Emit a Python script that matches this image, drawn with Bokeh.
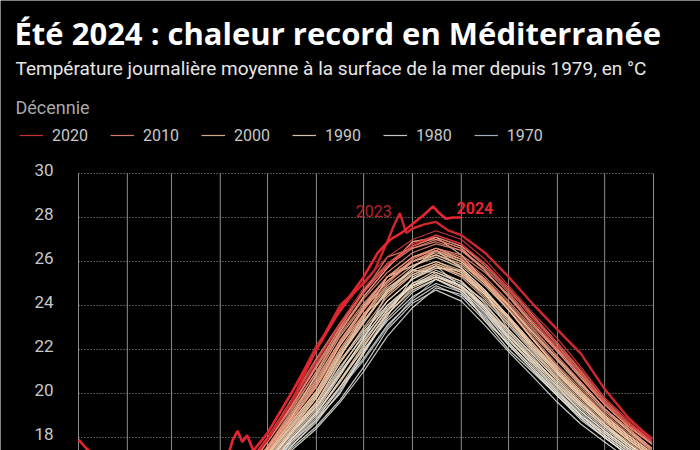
from bokeh.plotting import figure
from bokeh.models import Range1d, Label, Legend, LegendItem
from bokeh.core.properties import value
from bokeh.embed import file_html
from bokeh.resources import INLINE

# ---- data: day of year (0 = 1 Jan) and daily mean SST (°C) ----
days = [0, 45, 75, 105, 120, 135, 151, 166, 181, 196, 212, 227, 243, 258, 273, 288, 304, 319, 334, 349, 364]

t1979 = [15.8,14.5,14.3,15.2,16.5,17.7,18.9,20.2,21.5,23.0,24.3,25.2,24.6,23.6,22.4,21.4,20.1,19.1,18.2,17.4,16.6]
t1980 = [16.0,14.6,14.3,15.1,16.3,17.5,18.5,19.7,21.2,22.9,24.1,24.7,24.2,23.1,21.9,20.8,19.6,18.6,17.8,17.0,16.3]
t1981 = [15.7,14.3,14.1,15.0,16.4,17.8,19.0,20.3,21.6,23.1,24.2,24.9,24.4,23.3,22.0,21.0,19.9,18.9,18.0,17.2,16.5]
t1982 = [15.9,14.6,14.4,15.4,16.8,18.2,19.6,21.4,22.8,24.0,24.9,25.3,24.9,24.0,22.9,21.8,20.6,19.5,18.6,17.7,16.9]
t1983 = [16.0,14.5,14.2,15.2,16.5,17.8,18.8,20.0,21.8,23.5,25.3,25.8,24.8,23.8,22.5,21.3,20.1,19.0,18.1,17.3,16.6]
t1984 = [15.8,14.4,14.1,15.0,16.2,17.4,18.4,19.6,21.0,22.6,23.9,24.8,24.5,23.5,22.2,21.1,19.9,18.8,18.0,17.2,16.4]
t1985 = [15.7,14.3,14.0,15.0,16.3,17.6,18.7,20.1,21.9,23.4,24.6,25.2,24.7,23.7,22.3,21.2,20.0,19.0,18.2,17.4,16.7]
t1986 = [16.0,14.6,14.3,15.2,16.6,17.9,19.1,20.6,22.0,23.3,24.4,25.0,24.6,23.4,22.2,21.1,19.9,18.9,18.0,17.2,16.5]
t1987 = [15.9,14.5,14.4,15.3,16.6,17.9,19.2,20.8,22.5,24.6,25.6,25.5,25.0,24.2,23.1,21.9,20.7,19.6,18.6,17.7,16.9]
t1988 = [16.2,14.7,14.5,15.5,16.9,18.1,19.4,21.0,22.4,23.8,24.9,25.3,24.9,23.9,22.7,21.5,20.3,19.2,18.3,17.5,16.8]
t1989 = [16.1,14.7,14.6,15.6,17.0,18.3,19.6,21.2,22.6,23.9,24.9,25.4,24.9,23.8,22.6,21.6,20.4,19.3,18.4,17.6,16.8]
t1990 = [16.2,14.8,14.5,15.5,16.9,18.2,19.5,21.1,22.7,24.2,25.2,25.7,25.6,24.6,22.9,21.8,20.6,19.5,18.6,17.7,17.0]
t1991 = [16.0,14.5,14.2,15.1,16.4,17.6,18.8,20.3,21.9,23.6,24.8,25.3,24.8,23.3,22.3,21.2,20.0,19.0,18.1,17.3,16.6]
t1992 = [15.9,14.5,14.3,15.3,16.7,17.9,19.1,20.5,22.1,23.7,25.0,25.6,25.1,23.9,22.6,21.5,20.3,19.2,18.3,17.5,16.7]
t1993 = [16.1,14.6,14.4,15.4,16.8,18.0,19.3,20.9,22.5,24.0,25.0,25.4,24.9,23.9,22.8,21.7,20.4,19.4,18.5,17.6,16.9]
t1994 = [16.2,14.8,14.7,15.8,17.2,18.6,20.0,21.8,23.3,24.7,25.7,26.5,25.7,24.7,23.4,22.1,20.9,19.8,18.8,17.9,17.1]
t1995 = [16.1,14.7,14.5,15.5,16.9,18.2,19.4,20.9,22.3,23.8,24.9,25.5,25.1,24.1,22.8,21.6,20.5,19.4,18.5,17.7,16.9]
t1996 = [16.0,14.6,14.4,15.4,16.7,17.9,19.1,20.6,22.2,23.6,24.7,25.2,24.7,23.7,22.5,21.4,20.2,19.2,18.3,17.5,16.7]
t1997 = [16.2,14.8,14.6,15.7,17.1,18.4,19.8,21.5,22.9,24.2,25.2,25.8,25.4,24.5,23.3,22.1,20.9,19.8,18.8,17.9,17.1]
t1998 = [16.4,14.9,14.8,15.9,17.3,18.7,20.1,21.9,23.4,25.3,25.8,26.2,25.7,24.7,23.5,22.2,21.0,19.9,18.9,18.0,17.2]
t1999 = [16.3,14.8,14.6,15.8,17.2,18.5,19.9,21.7,23.2,24.7,25.6,26.0,25.5,24.5,23.4,22.2,21.0,19.9,18.9,18.0,17.2]
t2000 = [16.2,14.8,14.7,15.8,17.3,18.7,20.1,22.0,23.5,24.8,25.6,26.0,25.6,24.6,23.5,22.3,21.0,19.9,18.8,17.9,17.1]
t2001 = [16.4,15.0,14.9,16.0,17.4,18.8,20.3,22.2,23.6,24.9,25.8,26.3,25.8,24.9,23.8,22.5,21.2,20.1,19.0,18.1,17.3]
t2002 = [16.3,14.9,14.8,15.8,17.2,18.5,19.9,21.7,23.3,24.6,25.4,25.8,25.3,24.3,23.2,22.0,20.8,19.7,18.7,17.9,17.1]
t2003 = [16.2,14.7,14.6,15.7,17.2,18.9,20.9,22.8,24.4,25.7,26.9,27.1,26.3,25.1,23.8,22.5,21.1,20.0,18.9,18.0,17.2]
t2004 = [16.3,14.8,14.6,15.7,17.0,18.3,19.6,21.4,23.0,24.4,25.4,25.9,25.5,24.6,23.5,22.3,21.1,20.0,19.0,18.1,17.3]
t2005 = [16.1,14.6,14.4,15.5,16.9,18.3,19.8,21.6,23.6,24.5,25.5,25.9,25.4,24.4,23.2,22.0,20.7,19.6,18.6,17.8,17.0]
t2006 = [16.4,15.0,14.9,16.0,17.5,18.9,20.5,22.3,23.9,25.3,26.0,26.3,25.9,25.0,24.0,22.8,21.6,20.4,19.3,18.3,17.5]
t2007 = [16.6,15.2,15.0,16.1,17.5,19.0,20.6,22.4,23.9,25.1,26.0,26.5,26.0,25.0,23.8,22.5,21.2,20.1,19.0,18.1,17.3]
t2008 = [16.3,15.0,14.9,16.0,17.4,18.8,20.4,22.2,23.8,25.1,26.0,26.4,26.0,25.1,24.0,22.7,21.5,20.3,19.2,18.3,17.4]
t2009 = [16.5,15.1,14.9,16.1,17.6,19.1,20.8,22.6,24.0,25.3,26.2,26.6,26.1,25.2,24.0,22.8,21.6,20.4,19.3,18.4,17.5]
t2010 = [16.4,15.0,14.9,16.0,17.4,18.8,20.4,22.3,23.9,25.3,26.2,26.5,26.1,25.1,23.9,22.6,21.3,20.2,19.1,18.2,17.4]
t2011 = [16.5,15.1,15.0,16.2,17.6,19.0,20.7,22.4,23.8,25.1,26.1,26.6,26.2,25.3,24.2,23.0,21.7,20.5,19.3,18.4,17.5]
t2012 = [16.6,15.1,14.9,16.1,17.6,19.2,21.0,22.9,24.4,25.7,26.9,27.0,26.6,25.6,24.4,23.1,21.9,20.7,19.5,18.5,17.7]
t2013 = [16.5,15.1,15.0,16.1,17.4,18.8,20.3,22.0,23.6,25.0,26.0,26.5,26.1,25.2,24.1,22.9,21.6,20.5,19.3,18.4,17.5]
t2014 = [16.8,15.3,15.2,16.4,17.8,19.3,21.0,22.7,24.1,25.3,26.2,26.6,26.3,25.5,24.5,23.2,22.0,20.8,19.6,18.6,17.7]
t2015 = [16.7,15.2,15.1,16.3,17.8,19.4,21.3,23.0,24.6,26.2,26.6,26.9,26.5,25.6,24.4,23.2,22.0,20.8,19.6,18.6,17.8]
t2016 = [16.9,15.4,15.3,16.5,17.9,19.4,21.2,22.8,24.3,25.5,26.4,26.8,26.5,25.7,24.6,23.3,22.1,20.9,19.6,18.6,17.7]
t2017 = [16.7,15.2,15.1,16.4,17.9,19.6,21.5,23.1,24.6,25.8,26.6,27.0,26.6,25.6,24.4,23.2,21.9,20.7,19.5,18.5,17.7]
t2018 = [16.8,15.3,15.2,16.5,18.0,19.7,21.6,23.2,24.6,25.8,26.7,27.1,26.7,25.8,24.7,23.5,22.2,20.9,19.6,18.6,17.8]
t2019 = [16.9,15.4,15.3,16.6,18.0,19.4,21.2,23.0,24.7,25.9,26.7,27.1,26.7,25.9,24.8,23.6,22.3,21.0,19.7,18.7,17.8]
t2020 = [17.0,15.5,15.3,16.6,18.0,19.6,21.5,23.1,24.6,25.8,26.7,27.2,26.8,25.9,24.7,23.5,22.3,21.1,19.8,18.7,17.9]
t2021 = [16.9,15.4,15.2,16.5,17.9,19.5,21.4,23.2,24.8,25.9,26.8,27.2,26.8,25.9,24.8,23.4,22.1,20.9,19.6,18.6,17.8]
t2022 = [17.1,15.6,15.5,16.9,18.2,20.0,22.2,23.7,25.1,26.2,27.0,27.4,27.0,26.1,24.9,23.7,22.5,21.2,19.8,18.8,18.0]

days2023 = [0, 45, 75, 105, 120, 135, 151, 166, 181, 188, 196, 200, 204, 208, 212, 220, 227, 235, 243, 258, 273, 288, 304, 319, 334, 349, 364]
t2023 = [17.1,15.4,15.2,16.6,17.9,19.6,22.0,24.0,25.0,25.6,26.9,27.6,28.2,27.3,27.5,27.7,27.8,27.4,27.2,26.4,25.3,24.1,22.9,21.8,20.2,18.9,17.9]

days2024 = [0, 5, 10, 45, 75, 95, 98, 101, 104, 107, 111, 120, 135, 151, 166, 181, 190, 198, 205, 212, 219, 225, 229, 233, 238, 243]
t2024 = [17.9,17.5,17.2,15.6,15.6,17.2,17.9,18.3,17.8,18.1,17.4,18.2,20.0,22.0,23.8,25.3,26.4,27.0,27.3,27.7,28.1,28.5,28.2,27.95,28.0,28.0]

month_starts = [0, 31, 59, 90, 120, 151, 181, 212, 243, 273, 304, 334, 365]
y_ticks = [18, 20, 22, 24, 26, 28, 30]
decades = ["2020", "2010", "2000", "1990", "1980", "1970"]

series = {
    1979: t1979, 1980: t1980, 1981: t1981, 1982: t1982, 1983: t1983, 1984: t1984,
    1985: t1985, 1986: t1986, 1987: t1987, 1988: t1988, 1989: t1989, 1990: t1990,
    1991: t1991, 1992: t1992, 1993: t1993, 1994: t1994, 1995: t1995, 1996: t1996,
    1997: t1997, 1998: t1998, 1999: t1999, 2000: t2000, 2001: t2001, 2002: t2002,
    2003: t2003, 2004: t2004, 2005: t2005, 2006: t2006, 2007: t2007, 2008: t2008,
    2009: t2009, 2010: t2010, 2011: t2011, 2012: t2012, 2013: t2013, 2014: t2014,
    2015: t2015, 2016: t2016, 2017: t2017, 2018: t2018, 2019: t2019, 2020: t2020,
    2021: t2021, 2022: t2022,
}

# ---- layout constants (pixels) ----
W, H = 700, 450
PLOT_L, PLOT_R = 78, 653        # pixel columns of 1 Jan and 31 Dec
PLOT_TOP = 173                  # pixel row of the 30 °C line
PX_PER_DEG = 22.0
Y_MAX = 30
px_per_day = (PLOT_R - PLOT_L) / 365.0
x_start = -PLOT_L / px_per_day
x_end = 365 + (W - PLOT_R) / px_per_day
y_end = Y_MAX + PLOT_TOP / PX_PER_DEG
y_start = Y_MAX - (H - PLOT_TOP) / PX_PER_DEG

# ---- style ----
TITLE_FONT = "Open Sans"
FONT = "Roboto"
BG = "#000000"
decade_color = {
    "1970": "#b7c4cd",
    "1980": "#e4e4de",
    "1990": "#f2dcc0",
    "2000": "#f3bf9c",
    "2010": "#ec8c76",
    "2020": "#dc3a3c",
}

p = figure(width=W, height=H, output_backend="svg", toolbar_location=None,
           x_range=Range1d(x_start, x_end), y_range=Range1d(y_start, y_end),
           x_axis_location=None, y_axis_location=None,
           min_border_left=0, min_border_right=0, min_border_top=0, min_border_bottom=0)
p.background_fill_color = BG
p.border_fill_color = BG
p.outline_line_color = None
p.grid.visible = False

# grid: month boundaries (solid) and temperature levels (dotted), limited to the chart area
p.segment(x0=month_starts, y0=[y_start] * len(month_starts), x1=month_starts,
          y1=[Y_MAX] * len(month_starts), line_color="#8c8c8c", line_width=1)
p.segment(x0=[0] * len(y_ticks), y0=y_ticks, x1=[365] * len(y_ticks), y1=y_ticks,
          line_color="#9a9a9a", line_width=1, line_dash="1 2")

# y tick labels
p.text(x=[0] * len(y_ticks), y=y_ticks, text=[str(t) for t in y_ticks], x_offset=-25, y_offset=-4,
       text_align="right", text_baseline="middle", text_font=value(FONT),
       text_font_size="17px", text_color="#c8c8c8")

# yearly curves
first_renderer = {}
for yr in sorted(series):
    dec = str(yr // 10 * 10)
    r = p.line(days, series[yr], line_color=decade_color[dec], line_width=1.2, line_alpha=0.88)
    first_renderer.setdefault(dec, r)

p.line(days2023, t2023, line_color="#d0272f", line_width=2.4)
p.line(days2024, t2024, line_color="#e8252f", line_width=2.6)

p.add_layout(Label(x=176, y=28.3, text="2023", text_font=FONT, text_font_size="16px",
                   text_color="#b8242c", text_baseline="middle", text_align="left"))
p.add_layout(Label(x=240, y=28.45, text="2024", text_font=FONT, text_font_size="16px",
                   text_font_style="bold", text_color="#e8252f", text_baseline="middle",
                   text_align="left"))

# header texts
def head_label(x, baseline_from_top, text, font, size, color, bold=False):
    p.add_layout(Label(x=x, y=H - baseline_from_top, x_units="screen", y_units="screen",
                       text=text, text_font=font, text_font_size=size, text_color=color,
                       text_font_style="bold" if bold else "normal",
                       text_baseline="alphabetic", text_align="left"))

head_label(14, 32, "Été 2024 : chaleur record en Méditerranée", TITLE_FONT, "31px", "#ffffff", bold=True)
head_label(15, 67.5, "Température journalière moyenne à la surface de la mer depuis 1979, en °C", FONT, "19px", "#e6e6e6")
head_label(15, 106.5, "Décennie", FONT, "18px", "#a8a8a8")

legend = Legend(items=[LegendItem(label=d, renderers=[first_renderer[d]]) for d in decades],
                orientation="horizontal", location=(19, H - 145),
                glyph_width=24, glyph_height=20, label_height=20, label_standoff=9, spacing=22,
                padding=0, margin=0, label_text_font=FONT, label_text_font_size="16px",
                label_text_color="#c8c8c8", background_fill_alpha=0, border_line_alpha=0)
p.add_layout(legend, "center")

open("out.html", "w").write(file_html(p, INLINE))
